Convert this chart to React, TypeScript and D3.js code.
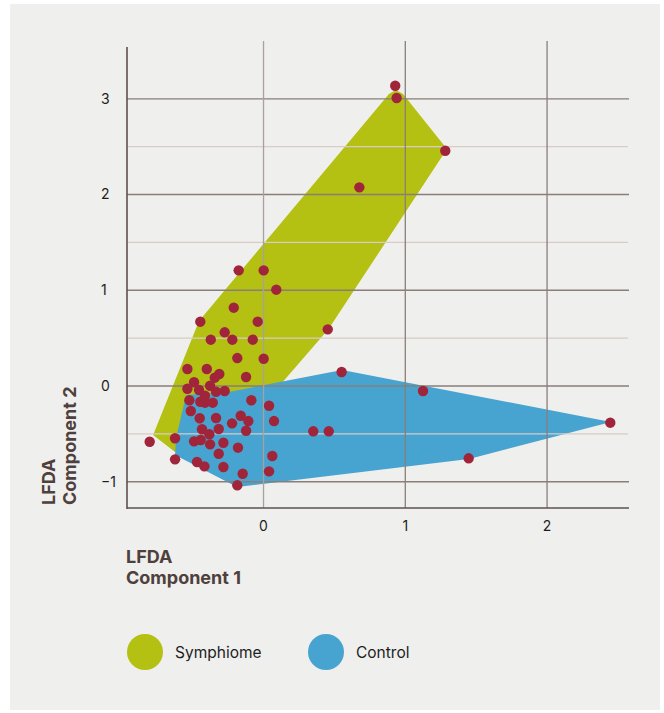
import React from "react";
import * as d3 from "d3";

const xTicks = [0, 1, 2];
const yTicks = [-1, 0, 1, 2, 3];
const yMinorTicks = [-0.5, 0.5, 1.5, 2.5];
const yTickLabels = ["−1", "0", "1", "2", "3"];

const seriesNames = ["Symphiome", "Control"];
const seriesColors = ["#b4c012", "#47a3cf"];

const symphiomeHull: [number, number][] = [
  [-0.779, -0.512], [-0.455, 0.679], [0.885, 3.05], [0.934, 3.091], [0.984, 3.05],
  [1.294, 2.475], [0.459, 0.595], [0.123, 0.021], [0.046, -0.146], [-0.624, -0.689],
];
const controlHull: [number, number][] = [
  [0.554, 0.167], [2.451, -0.376], [1.449, -0.762], [-0.187, -1.055],
  [-0.624, -0.721], [-0.617, -0.543], [-0.546, -0.094], [-0.236, -0.06],
];

const pointX = [
  -0.175, 0.001, 0.09, -0.21, -0.446, -0.041, -0.274, -0.372, -0.22, -0.076,
  -0.185, 0.001, -0.537, -0.4, -0.312, -0.344, -0.123, -0.49, -0.537, -0.377,
  -0.455, -0.335, -0.274, -0.413, -0.523, -0.446, -0.413, -0.358, -0.086, 0.039,
  -0.513, -0.45, -0.335, -0.161, -0.107, 0.074, -0.222, -0.434, -0.316, -0.123,
  -0.382, 0.351, -0.803, -0.624, -0.49, -0.443, -0.377, -0.283, -0.18, -0.316,
  -0.624, -0.469, -0.417, -0.283, 0.062, -0.147, 0.039, -0.185, 0.453, 0.551,
  1.125, 0.46, 1.447, 2.446, 0.929, 0.939, 1.282, 0.676,
];
const pointY = [
  1.208, 1.208, 1.006, 0.818, 0.672, 0.672, 0.561, 0.484, 0.484, 0.484,
  0.292, 0.285, 0.178, 0.178, 0.125, 0.087, 0.094, 0.039, -0.028, 0.003,
  -0.042, -0.06, -0.052, -0.101, -0.149, -0.164, -0.174, -0.174, -0.149, -0.206,
  -0.261, -0.337, -0.334, -0.31, -0.366, -0.366, -0.39, -0.452, -0.449, -0.467,
  -0.504, -0.473, -0.582, -0.546, -0.578, -0.564, -0.609, -0.592, -0.644, -0.707,
  -0.766, -0.794, -0.839, -0.846, -0.731, -0.916, -0.891, -1.037, 0.592, 0.146,
  -0.052, -0.473, -0.755, -0.383, 3.136, 3.008, 2.457, 2.075,
];

const xAxisTitle = ["LFDA", "Component 1"];
const yAxisTitle = ["LFDA", "Component 2"];

const W = 664;
const H = 713;
const FONT = "Inter, 'Noto Sans', sans-serif";

export default function App() {
  const x = d3.scaleLinear().domain([-0.963, 2.578]).range([127, 629]);
  const y = d3.scaleLinear().domain([-1.274, 3.593]).range([508, 42]);
  const line = d3
    .line<[number, number]>()
    .x((d) => x(d[0]))
    .y((d) => y(d[1]))
    .curve(d3.curveLinearClosed);

  const left = x.range()[0];
  const right = x.range()[1];
  const bottom = y.range()[0];
  const top = y.range()[1];

  return (
    <svg
      width={W}
      height={H}
      style={{ position: "absolute", left: 0, top: 0, display: "block" }}
    >
      <rect x={10} y={4} width={650} height={706} fill="#efefed" />

      <path d={line(symphiomeHull) || ""} fill={seriesColors[0]} />
      <path d={line(controlHull) || ""} fill={seriesColors[1]} />

      {yMinorTicks.map((t) => (
        <line key={"m" + t} x1={left} x2={right - 1} y1={y(t)} y2={y(t)} stroke="#d7ccc8" strokeWidth={1.3} />
      ))}
      {yTicks.map((t) => (
        <line key={"h" + t} x1={left} x2={right} y1={y(t)} y2={y(t)} stroke="#8a7e7a" strokeWidth={1.3} />
      ))}
      {xTicks.map((t) => (
        <line
          key={"v" + t}
          x1={x(t)}
          x2={x(t)}
          y1={top - 1}
          y2={bottom}
          stroke={t === 0 ? "#aaa19e" : "#8a7e7a"}
          strokeWidth={1.3}
        />
      ))}

      <line x1={left} x2={left} y1={top + 5} y2={bottom + 1} stroke="#5e514d" strokeWidth={1.6} />
      <line x1={left} x2={right} y1={bottom} y2={bottom} stroke="#5e514d" strokeWidth={1.6} />

      {pointX.map((px, i) => (
        <circle key={"p" + i} cx={x(px)} cy={y(pointY[i])} r={5.2} fill="#a1253a" />
      ))}

      {yTicks.map((t, i) => (
        <text
          key={"yl" + t}
          x={101}
          y={y(t)}
          dy="0.35em"
          fontFamily={FONT}
          fontSize={14}
          fill="#1d1d1d"
        >
          {yTickLabels[i]}
        </text>
      ))}
      {xTicks.map((t) => (
        <text
          key={"xl" + t}
          x={x(t)}
          y={531}
          textAnchor="middle"
          fontFamily={FONT}
          fontSize={14}
          fill="#1d1d1d"
        >
          {String(t)}
        </text>
      ))}

      {xAxisTitle.map((s, i) => (
        <text
          key={"xt" + i}
          x={126}
          y={563 + i * 21}
          fontFamily={FONT}
          fontSize={18}
          fontWeight={700}
          fill="#4e403c"
        >
          {s}
        </text>
      ))}
      {yAxisTitle.map((s, i) => (
        <text
          key={"yt" + i}
          transform={`translate(${55 + i * 21},505) rotate(-90)`}
          fontFamily={FONT}
          fontSize={18}
          fontWeight={700}
          fill="#4e403c"
        >
          {s}
        </text>
      ))}

      {seriesNames.map((name, i) => {
        const cx = i === 0 ? 145 : 326;
        return (
          <g key={"lg" + i}>
            <circle cx={cx} cy={652} r={18} fill={seriesColors[i]} />
            <text x={cx + 30} y={657.5} fontFamily={FONT} fontSize={15.5} fill="#1d1d1d">
              {name}
            </text>
          </g>
        );
      })}
    </svg>
  );
}
